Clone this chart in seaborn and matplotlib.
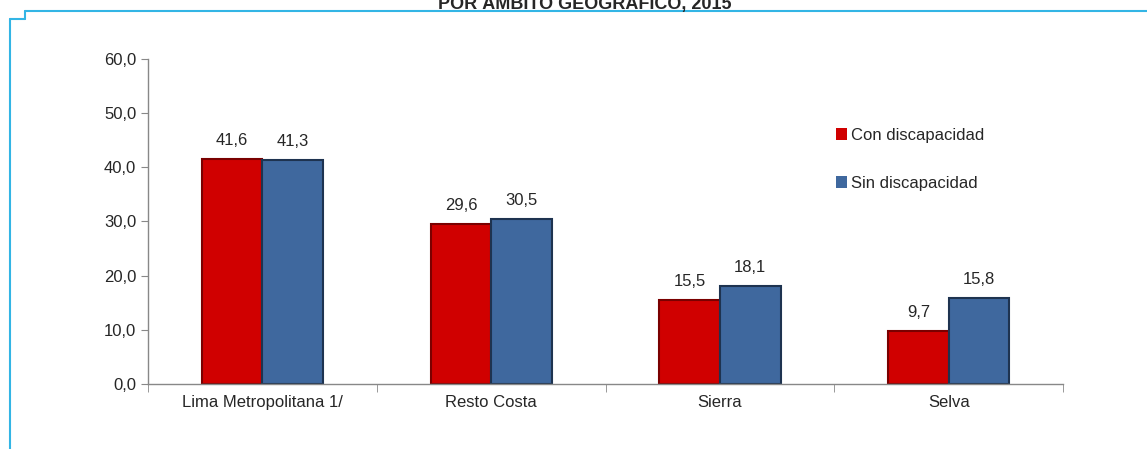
import pandas as pd
import numpy as np
import matplotlib.pyplot as plt
import seaborn as sns

# Datos del gráfico
ambitos = ['Lima Metropolitana 1/', 'Resto Costa', 'Sierra', 'Selva']
con_discapacidad = [41.6, 29.6, 15.5, 9.7]
sin_discapacidad = [41.3, 30.5, 18.1, 15.8]
grupos = ['Con discapacidad', 'Sin discapacidad']
titulo = 'POR ÁMBITO GEOGRÁFICO, 2015'

df = pd.DataFrame({
    'Ambito': ambitos * 2,
    'Grupo': [grupos[0]] * 4 + [grupos[1]] * 4,
    'Valor': con_discapacidad + sin_discapacidad,
})

sns.set_style('white')
plt.rcParams['font.family'] = ['Liberation Sans', 'DejaVu Sans']

fig = plt.figure(figsize=(11.47, 4.49), dpi=100)
ax = fig.add_axes([0.129, 0.1448, 0.798, 0.7238])

colores = {'Con discapacidad': '#D00000', 'Sin discapacidad': '#3F689E'}
sns.barplot(data=df, x='Ambito', y='Valor', hue='Grupo', palette=colores,
            saturation=1, width=0.53, gap=0, ax=ax, edgecolor='none', legend=True)

bordes = {'Con discapacidad': '#7A0000', 'Sin discapacidad': '#1E3350'}
for cont, g in zip(ax.containers, grupos):
    for bar in cont:
        bar.set_edgecolor(bordes[g])
        bar.set_linewidth(1.5)
    ax.bar_label(cont, labels=[f'{v:.1f}'.replace('.', ',') for v in cont.datavalues],
                 padding=8, fontsize=12)

ax.set_ylim(0, 60)
ax.set_xlim(-0.5, 3.5)
ax.set_yticks(np.arange(0, 61, 10))
ax.set_yticklabels([f'{v:.1f}'.replace('.', ',') for v in np.arange(0, 61, 10)], fontsize=12)
ax.set_xticks(range(4))
ax.set_xticklabels(ambitos, fontsize=12)
ax.tick_params(axis='x', length=0, pad=8)
ax.tick_params(axis='y', length=5, color='#888888', left=True, direction='out')
ax.set_xticks(np.arange(-0.5, 4, 1), minor=True)
ax.tick_params(axis='x', which='minor', length=6, color='#888888', bottom=True, direction='out')
ax.set_xlabel('')
ax.set_ylabel('')
for s in ['top', 'right']:
    ax.spines[s].set_visible(False)
for s in ['left', 'bottom']:
    ax.spines[s].set_color('#888888')
    ax.spines[s].set_linewidth(1)

leg = ax.legend(loc='upper left', bbox_to_anchor=(0.735, 0.835), frameon=False,
                fontsize=12, handlelength=0.7, handleheight=0.7, handletextpad=0.2,
                labelspacing=2.0)

# Marco azul y título recortado
azul = '#33B5E5'
fig.add_artist(plt.Line2D([0.022, 1.0], [0.976, 0.976], color=azul, lw=1.5))
fig.add_artist(plt.Line2D([0.009, 0.022], [0.958, 0.958], color=azul, lw=1.5))
fig.add_artist(plt.Line2D([0.022, 0.022], [0.958, 0.976], color=azul, lw=1.5))
fig.add_artist(plt.Line2D([0.009, 0.009], [0.0, 0.958], color=azul, lw=1.5))
fig.text(0.51, 0.993, titulo, ha='center', va='center', fontsize=13, fontweight='bold')

fig.savefig('out.png', dpi=100)
